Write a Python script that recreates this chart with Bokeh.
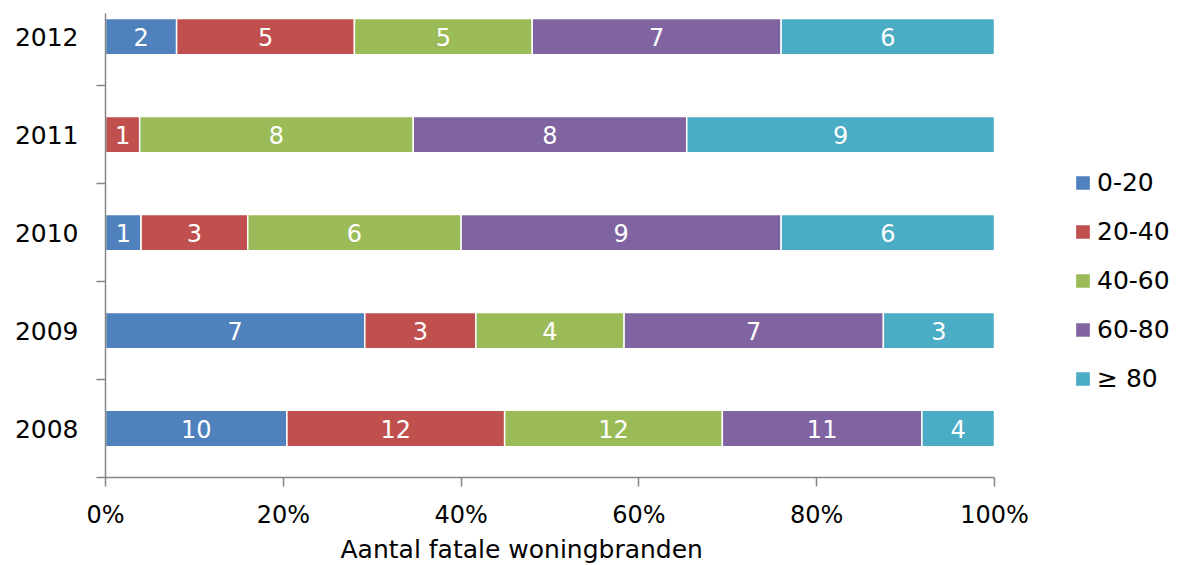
from bokeh.plotting import figure
from bokeh.models import (ColumnDataSource, Range1d, FixedTicker, NumeralTickFormatter,
                          Legend, LegendItem, Title)
from bokeh.core.properties import value
from bokeh.embed import file_html
from bokeh.resources import INLINE

years = ["2008", "2009", "2010", "2011", "2012"]
categories = ["0-20", "20-40", "40-60", "60-80", "≥ 80"]
c0_20 = [10, 7, 1, 0, 2]
c20_40 = [12, 3, 3, 1, 5]
c40_60 = [12, 4, 6, 8, 5]
c60_80 = [11, 7, 9, 8, 7]
c80 = [4, 3, 6, 9, 6]
colors = ["#4F81BD", "#C0504D", "#9BBB59", "#8064A2", "#4BACC6"]
x_ticks = [0, 0.2, 0.4, 0.6, 0.8, 1.0]
x_title = "Aantal fatale woningbranden"

series = [c0_20, c20_40, c40_60, c60_80, c80]
keys = ["s0", "s1", "s2", "s3", "s4"]
ypos = list(range(len(years)))
totals = [sum(s[i] for s in series) for i in ypos]

data = {"y": ypos}
for k, s in zip(keys, series):
    data[k] = [s[i] / totals[i] for i in ypos]
source = ColumnDataSource(data)

FONT = "DejaVu Sans"

# frame: 0..1 spans 889px; extra room to the right holds the legend
p = figure(width=1178, height=565, output_backend="svg", toolbar_location=None,
           x_range=Range1d(0, 1073 / 889), y_range=Range1d(-0.5, 4.235),
           min_border_left=105, min_border_right=0, min_border_top=13, min_border_bottom=60)
p.outline_line_color = None
p.xgrid.visible = False
p.ygrid.visible = False

renderers = p.hbar_stack(keys, y="y", height=0.37, color=colors, source=source,
                         line_color="white", line_width=1.5)

# segment labels
lx, ly, lt = [], [], []
for i in ypos:
    left = 0.0
    for s in series:
        frac = s[i] / totals[i]
        if s[i] > 0:
            lx.append(left + frac / 2)
            ly.append(i)
            lt.append(str(s[i]))
        left += frac
lsrc = ColumnDataSource(dict(x=lx, y=ly, t=lt))
p.text(x="x", y="y", text="t", source=lsrc, text_align="center", text_baseline="middle",
       text_color="white", text_font=value(FONT), text_font_size=value("24px"))

# axes
p.xaxis.bounds = (0, 1)
p.xaxis.ticker = FixedTicker(ticks=x_ticks)
p.xaxis.formatter = NumeralTickFormatter(format="0%")
p.xaxis.major_label_standoff = 14
p.xaxis.minor_tick_line_color = None

p.yaxis.ticker = FixedTicker(ticks=ypos, minor_ticks=[-0.5, 0.5, 1.5, 2.5, 3.5])
p.yaxis.major_label_overrides = {i: y for i, y in zip(ypos, years)}
p.yaxis.major_tick_out = 0
p.yaxis.major_tick_in = 0
p.yaxis.minor_tick_out = 9
p.yaxis.minor_tick_in = 0
p.yaxis.major_label_standoff = 18

for ax in (p.xaxis, p.yaxis):
    ax.axis_line_color = "#868686"
    ax.axis_line_width = 1.5
    ax.major_tick_line_color = "#868686"
    ax.minor_tick_line_color = "#868686"
    ax.major_tick_line_width = 1.5
    ax.minor_tick_line_width = 1.5
    ax.major_label_text_font = FONT
    ax.major_label_text_color = "black"
p.xaxis.major_tick_out = 9
p.xaxis.major_tick_in = 0
p.xaxis.minor_tick_line_color = None
p.yaxis.major_label_text_font_size = "25px"
p.xaxis.major_label_text_font_size = "24px"

# axis title, centred under the 0-100% span (as in the reference)
p.add_layout(Title(text=x_title, align="left", offset=235, standoff=3,
                   text_font=FONT, text_font_size="25px", text_font_style="normal",
                   text_color="black"), "below")

items = [LegendItem(label=c, renderers=[r]) for c, r in zip(categories, renderers)]
legend = Legend(items=items, location=(968, 84), orientation="vertical",
                label_text_font=FONT, label_text_font_size="25px", label_text_color="black",
                glyph_width=19, glyph_height=19, label_height=25, spacing=20,
                label_standoff=5, padding=0, margin=0,
                border_line_color=None, background_fill_alpha=0)
p.add_layout(legend, "center")

open("out.html", "w").write(file_html(p, INLINE))
